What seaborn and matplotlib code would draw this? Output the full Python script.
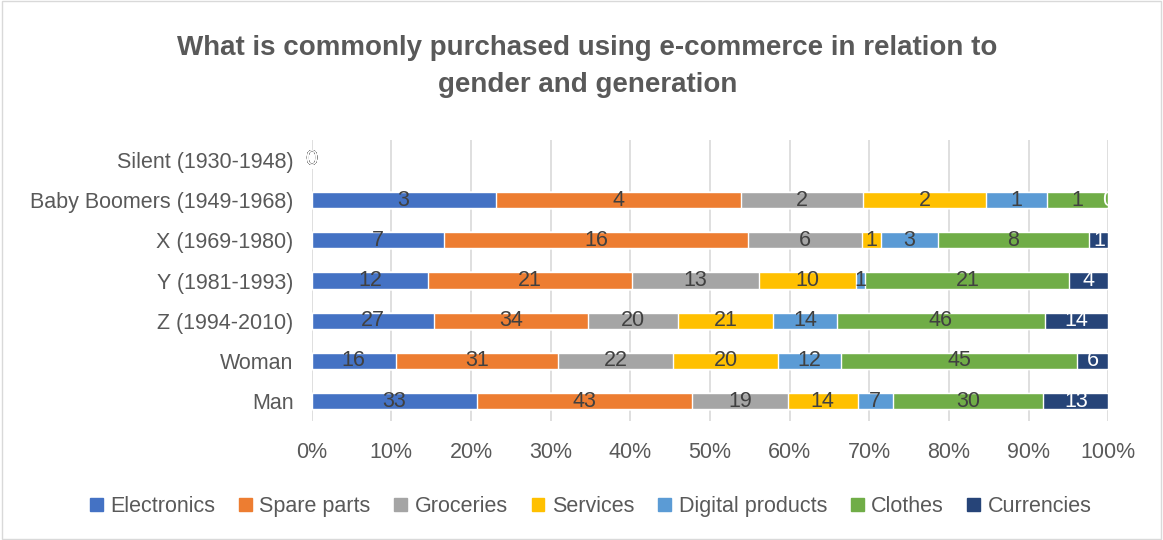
import numpy as np
import pandas as pd
import seaborn as sns
import matplotlib.pyplot as plt
from matplotlib.patches import Rectangle

groups = ["Silent (1930-1948)", "Baby Boomers (1949-1968)", "X (1969-1980)",
          "Y (1981-1993)", "Z (1994-2010)", "Woman", "Man"]
series = ["Electronics", "Spare parts", "Groceries", "Services",
          "Digital products", "Clothes", "Currencies"]

electronics = [0, 3, 7, 12, 27, 16, 33]
spare_parts = [0, 4, 16, 21, 34, 31, 43]
groceries = [0, 2, 6, 13, 20, 22, 19]
services = [0, 2, 1, 10, 21, 20, 14]
digital_products = [0, 1, 3, 1, 14, 12, 7]
clothes = [0, 1, 8, 21, 46, 45, 30]
currencies = [0, 0, 1, 4, 14, 6, 13]

colors = ["#4472C4", "#ED7D31", "#A5A5A5", "#FFC000", "#5B9BD5", "#70AD47", "#264478"]

counts = pd.DataFrame(
    {"Electronics": electronics, "Spare parts": spare_parts, "Groceries": groceries,
     "Services": services, "Digital products": digital_products,
     "Clothes": clothes, "Currencies": currencies},
    index=groups)

totals = counts.sum(axis=1).replace(0, np.nan)
pct = counts.div(totals, axis=0).fillna(0) * 100
cum = pct.cumsum(axis=1)

sns.set_theme(style="white")
plt.rcParams["font.family"] = ["Liberation Sans", "DejaVu Sans"]
text_grey = "#595959"

fig = plt.figure(figsize=(11.63, 5.4), dpi=100)
ax = fig.add_axes([0.268, 0.22, 0.685, 0.521])

# stacked bars: draw cumulative totals from the widest down
for name, col in reversed(list(zip(series, colors))):
    df = pd.DataFrame({"group": groups, "value": cum[name].values})
    sns.barplot(data=df, x="value", y="group", color=col, orient="h",
                width=0.4, saturation=1, ax=ax, zorder=3)

# segment labels
for i, g in enumerate(groups):
    left = 0
    for name in series:
        w = pct.loc[g, name]
        tc = "white" if name == "Currencies" else "#404040"
        ax.text(left + w / 2, i, str(counts.loc[g, name]), ha="center", va="center",
                fontsize=15.5, color=tc, zorder=5, clip_on=False)
        left += w

ax.set_xlim(0, 100)
ax.set_xticks(np.arange(0, 101, 10))
ax.set_xticklabels([f"{t}%" for t in range(0, 101, 10)])
ax.xaxis.grid(True, color="#D9D9D9", linewidth=1.2, zorder=0)
ax.set_axisbelow(True)
ax.set_xlabel("")
ax.set_ylabel("")
for s in ax.spines.values():
    s.set_visible(False)
ax.tick_params(axis="both", length=0, labelsize=15.5, labelcolor=text_grey)
ax.tick_params(axis="y", pad=13)
ax.tick_params(axis="x", pad=15)

fig.suptitle("What is commonly purchased using e-commerce in relation to\ngender and generation",
             x=0.505, y=0.935, fontsize=20, fontweight="bold", color=text_grey,
             linespacing=1.55)

handles = [Rectangle((0, 0), 1, 1, color=c) for c in colors]
fig.legend(handles, series, loc="center", bbox_to_anchor=(0.508, 0.062), ncol=7,
           frameon=False, fontsize=15.5, labelcolor=text_grey, handlelength=0.6,
           handleheight=0.6, handletextpad=0.35, columnspacing=1.1)

fig.patches.append(Rectangle((0.002, 0.002), 0.996, 0.996, transform=fig.transFigure,
                             fill=False, edgecolor="#D9D9D9", linewidth=1))

fig.savefig("out.png", dpi=100)
